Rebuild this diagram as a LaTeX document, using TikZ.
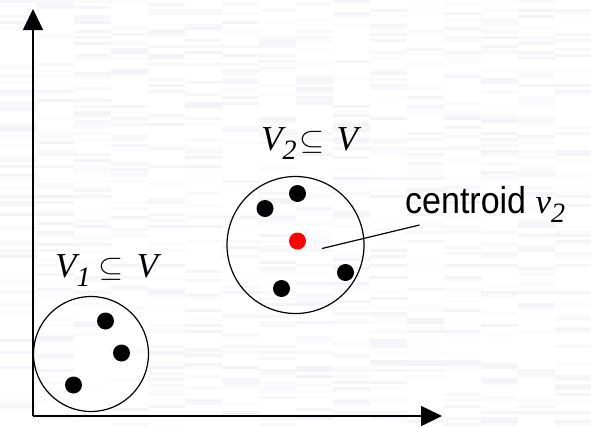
\documentclass[tikz,border=0pt]{standalone}
\usepackage{fontspec}
\setmainfont{Liberation Serif}
\newfontfamily\arialfont{Liberation Sans}
\usetikzlibrary{arrows.meta}
\definecolor{stripe}{RGB}{212,210,228}
\definecolor{dotred}{RGB}{255,0,0}
\tikzset{
  axisline/.style={line width=1.6pt,-{Triangle[length=21pt,width=20pt]}},
  cluster/.style={circle,draw=black,line width=1.2pt,inner sep=0pt},
  pt/.style={circle,fill=black,inner sep=0pt,minimum size=17pt},
  redpt/.style={circle,fill=dotred,inner sep=0pt,minimum size=17pt},
  setlabel/.style={anchor=base west,inner sep=0pt,font=\fontsize{35}{38}\selectfont},
  textlabel/.style={anchor=base west,inner sep=0pt,font=\arialfont\fontsize{34}{38}\selectfont},
}
\newcommand{\lowsub}[1]{\raisebox{-0.27em}{\fontsize{28}{30}\selectfont\itshape #1}}
\newcommand{\bigsubset}{\raisebox{0.02em}{\scalebox{1.3}[1.15]{$\subseteq$}}}
\begin{document}
\begin{tikzpicture}[x=1pt,y=-1pt]
\useasboundingbox (0,0) rectangle (591,426);
% textured background
\pgfmathsetseed{7}
\foreach \i in {0,...,15}{
  \foreach \j in {0,...,141}{
    \pgfmathsetmacro\g{max(0,70*rnd-42)}
    \fill[stripe!\g!white] (\i*37,\j*3) rectangle ++(37,3);
  }
}
% axes
\coordinate (origin) at (33,416);
\coordinate (ytip) at (33,9);
\coordinate (xtip) at (442,416);
\draw[axisline] (origin) -- (ytip);
\draw[axisline] (origin) -- (xtip);
% clusters
\node[cluster,minimum size=115pt] (c1) at (91,354) {};
\node[cluster,minimum size=137pt] (c2) at (295.5,245) {};
% points
\node[pt] (p11) at (105.5,321) {};
\node[pt] (p12) at (121.5,353) {};
\node[pt] (p13) at (73.5,385) {};
\node[pt] (p21) at (297.5,193.5) {};
\node[pt] (p22) at (265,208.5) {};
\node[redpt] (cent) at (297.5,241) {};
\node[pt] (p23) at (345.5,272.5) {};
\node[pt] (p24) at (281.5,288.5) {};
% labels
\node[setlabel] (l2) at (261,150) {\itshape V\lowsub{2}\hspace{3pt}\bigsubset\hspace{12pt}V};
\node[setlabel] (l1) at (55,277) {\itshape V\lowsub{1}\hspace{8pt}\bigsubset\hspace{13pt}V};
\node[textlabel] (lc) at (405,213) {\scalebox{1}[1.1]{centroid} {\fontspec{Liberation Serif}\fontsize{35}{38}\selectfont\itshape v\lowsub{2}}};
% pointer
\coordinate (ps) at (322,248.5);
\coordinate (pe) at (419.5,225);
\draw[line width=1.2pt] (ps) -- (pe);
\end{tikzpicture}
\end{document}
